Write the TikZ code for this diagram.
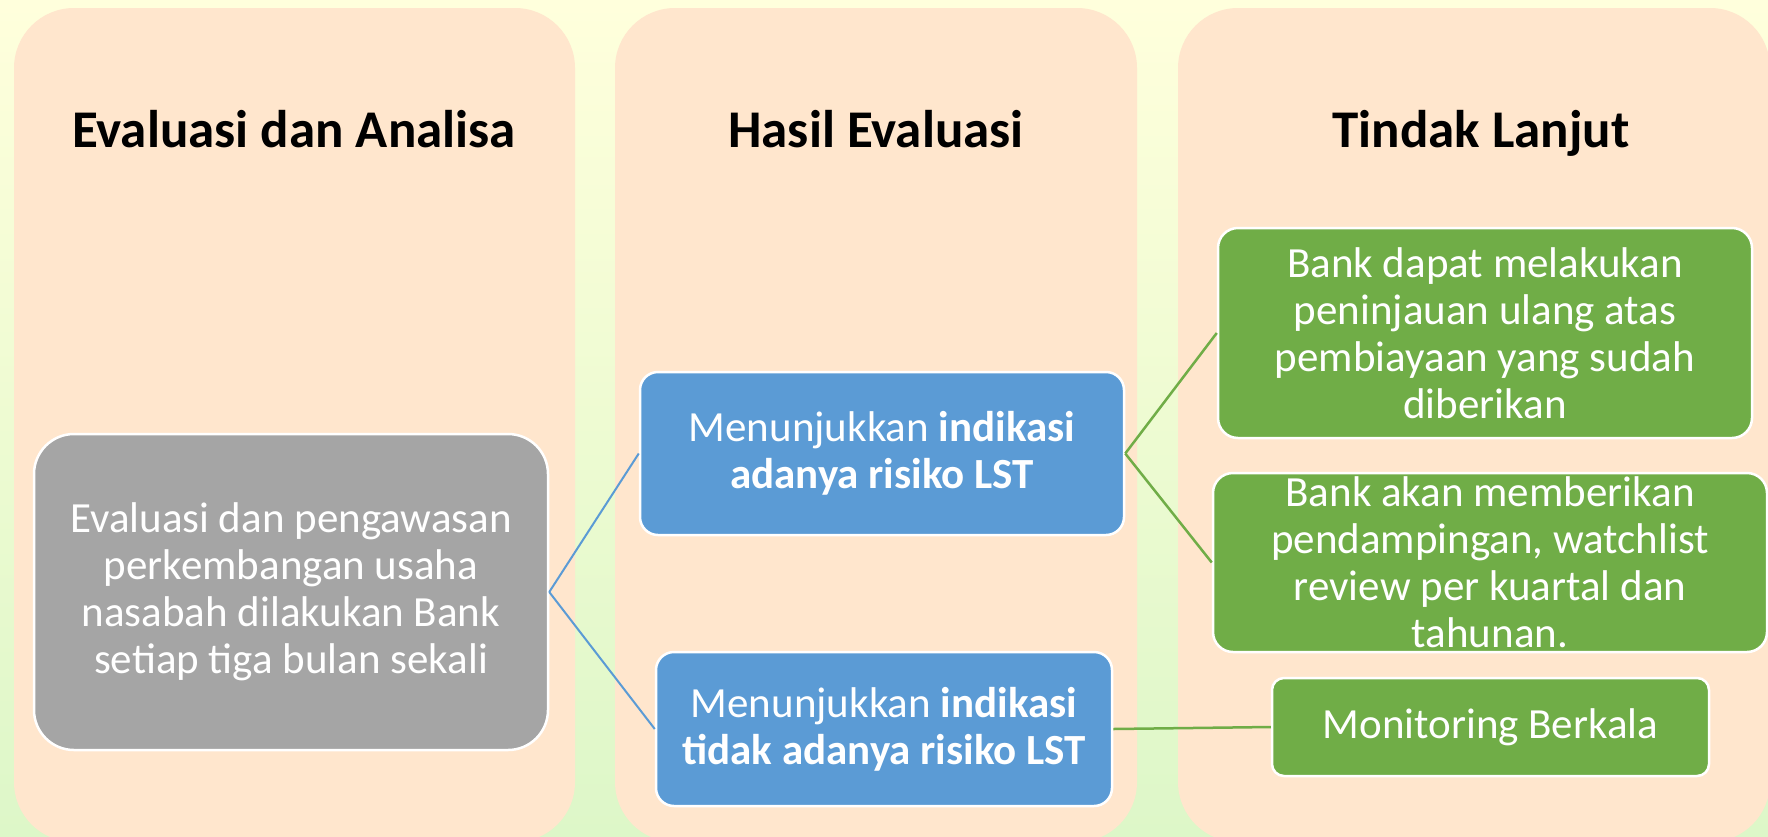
\documentclass[tikz,border=0pt]{standalone}
\usepackage{fontspec}
\setmainfont{Carlito}
\definecolor{bgtop}{RGB}{255,255,220}
\definecolor{bgbot}{RGB}{221,247,200}
\definecolor{panelfill}{RGB}{255,230,205}
\definecolor{grayfill}{RGB}{165,165,165}
\definecolor{bluefill}{RGB}{91,155,213}
\definecolor{greenfill}{RGB}{112,173,71}
\begin{document}
\begin{tikzpicture}[x=1pt,y=-1pt,
  panel/.style={fill=panelfill, rounded corners=60pt},
  coltitle/.style={anchor=base, inner sep=0pt, font=\fontsize{53}{62}\selectfont\bfseries, text=black},
  boxbase/.style={draw=white, line width=2.5pt, inner sep=0pt, align=center, text=white,
     font=\fontsize{43}{47}\selectfont},
  graybox/.style={boxbase, fill=grayfill, rounded corners=40pt},
  bluebox/.style={boxbase, fill=bluefill, rounded corners=18pt},
  greenbox/.style={boxbase, fill=greenfill, rounded corners=20pt},
  bluelink/.style={draw=bluefill, line width=2pt},
  greenlink/.style={draw=greenfill, line width=2.5pt}
]
\useasboundingbox (0,0) rectangle (1768,836);
\shade[top color=bgtop, bottom color=bgbot] (0,0) rectangle (1768,836);

% column panels
\path[panel] (14,8) rectangle (575,842);
\path[panel] (615,8) rectangle (1137,842);
\path[panel] (1178,8) rectangle (1770,842);

% titles
\node[coltitle] (t1) at (294,147) {Evaluasi dan Analisa};
\node[coltitle] (t2) at (876,147) {Hasil Evaluasi};
\node[coltitle] (t3) at (1481,147) {Tindak Lanjut};

% boxes
\node[graybox, minimum width=514pt, minimum height=316pt] (gray) at (291,592)
  {Evaluasi dan pengawasan\\perkembangan usaha\\nasabah dilakukan Bank\\setiap tiga bulan sekali};
\node[bluebox, minimum width=484pt, minimum height=163pt] (blue1) at (882,453.5)
  {Menunjukkan \textbf{indikasi}\\\textbf{adanya risiko LST}};
\node[bluebox, minimum width=456pt, minimum height=154pt] (blue2) at (884,729)
  {Menunjukkan \textbf{indikasi}\\\textbf{tidak adanya risiko LST}};
\node[greenbox, minimum width=534pt, minimum height=210pt] (green1) at (1485,333)
  {Bank dapat melakukan\\peninjauan ulang atas\\pembiayaan yang sudah\\diberikan};
\node[greenbox, minimum width=554pt, minimum height=179pt] (green2) at (1490,562.5)
  {Bank akan memberikan\\pendampingan, watchlist\\review per kuartal dan\\tahunan.};
\node[greenbox, rounded corners=12pt, minimum width=437pt, minimum height=98pt] (green3) at (1490.5,727)
  {Monitoring Berkala};

% connectors
\draw[bluelink] (gray.east) -- (blue1.west);
\draw[bluelink] (gray.east) -- (blue2.west);
\draw[greenlink] (blue1.east) -- (green1.west);
\draw[greenlink] (blue1.east) -- (green2.west);
\draw[greenlink] (blue2.east) -- (green3.west);
\end{tikzpicture}
\end{document}
